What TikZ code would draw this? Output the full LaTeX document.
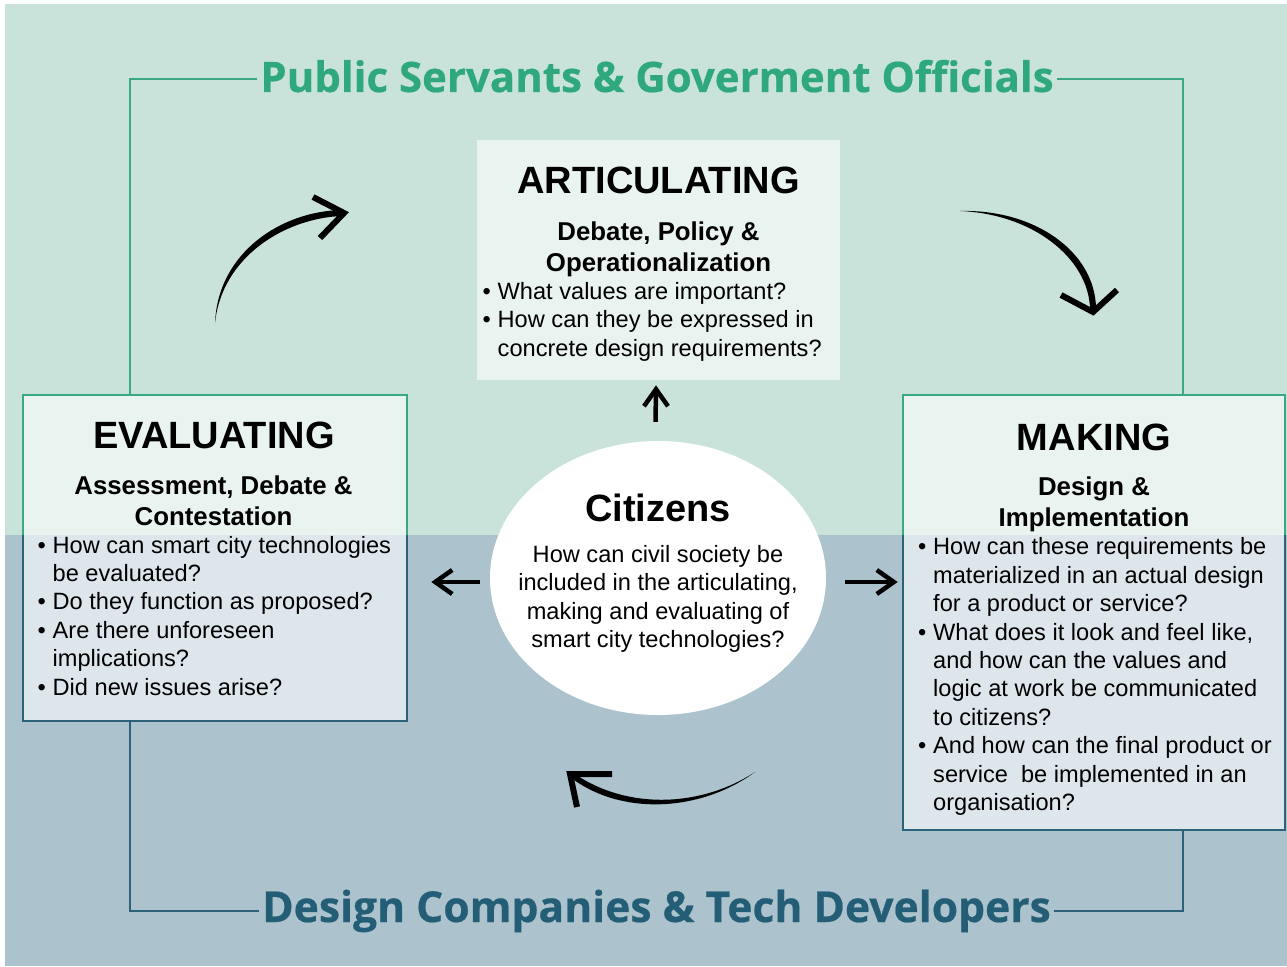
\documentclass[tikz,border=0pt]{standalone}
\usepackage{fontspec}
\setmainfont{Liberation Sans}
\newfontfamily\headfont{Open Sans}[BoldFeatures={FakeBold=0.5}]
\usetikzlibrary{calc,shapes.geometric}

\definecolor{bgtop}{HTML}{C9E3DA}
\definecolor{bgbot}{HTML}{ACC3CD}
\definecolor{gtxt}{HTML}{2EA87C}
\definecolor{gline}{HTML}{3AA983}
\definecolor{btxt}{HTML}{245E76}
\definecolor{bline}{HTML}{2C6279}

% bullet line and hanging continuation line
\newcommand{\bitem}[1]{\makebox[15pt][l]{\textbullet}#1}
\newcommand{\bcont}[1]{\hspace*{15pt}#1}

\begin{document}
\begin{tikzpicture}[x=1pt,y=-1pt,
  panel/.style={rectangle, fill=white, fill opacity=0.6, draw=none, inner sep=0pt},
  heading/.style={font=\fontsize{38}{40}\selectfont\bfseries, inner sep=0pt, anchor=base},
  % multi-line nodes below are placed by the baseline of their last line
  subhead/.style={font=\fontsize{25.8}{30.8}\selectfont\bfseries, align=center, inner sep=0pt, anchor=base},
  body/.style={font=\fontsize{23.6}{28.4}\selectfont, align=left, inner sep=0pt, anchor=base west},
  cbody/.style={font=\fontsize{23.6}{28.5}\selectfont, align=center, inner sep=0pt, anchor=base},
  bigtitle/.style={font=\headfont\bfseries\fontsize{42}{46}\selectfont, inner xsep=3pt, inner ysep=0pt, anchor=base},
  gbracket/.style={draw=gline, line width=2pt},
  bbracket/.style={draw=bline, line width=2pt},
  shaft/.style={draw=black, line width=4.5pt},
  vhead/.style={draw=black, line width=4.5pt, miter limit=10},
  barb/.style={draw=black, line width=6pt, miter limit=10},
]
\useasboundingbox (0,0) rectangle (1287,966);
\fill[white] (0,0) rectangle (1287,966);
\fill[bgtop] (5,4) rectangle (1287,535);
\fill[bgbot] (5,535) rectangle (1287,966);

% panels
\node[panel, minimum width=363, minimum height=240] (art) at (658.5,260) {};
\node[panel, minimum width=384, minimum height=326] (eval) at (215,558) {};
\node[panel, minimum width=382, minimum height=435] (make) at (1094,612.5) {};

% group titles
\node[bigtitle, text=gtxt] (ttl) at (657,92) {Public Servants \& Goverment Officials};
\node[bigtitle, text=btxt, font=\headfont\bfseries\fontsize{42.6}{46}\selectfont] (btl) at (656.5,922) {Design Companies \& Tech Developers};

% brackets
\coordinate (tl) at (130,79);
\coordinate (tr) at (1183,79);
\coordinate (bl) at (130,911);
\coordinate (br) at (1183,911);
\draw[gbracket] (ttl.west |- tl) -- (tl) -- (tl |- eval.north);
\draw[gbracket] (ttl.east |- tr) -- (tr) -- (tr |- make.north);
\draw[bbracket] (btl.west |- bl) -- (bl) -- (bl |- eval.south);
\draw[bbracket] (btl.east |- br) -- (br) -- (br |- make.south);

% panel borders, green above the split and blue below it
\begin{scope}
  \clip (0,0) rectangle (1287,535);
  \draw[gline, line width=2pt] (eval.north west) rectangle (eval.south east);
  \draw[gline, line width=2pt] (make.north west) rectangle (make.south east);
\end{scope}
\begin{scope}
  \clip (0,535) rectangle (1287,966);
  \draw[bline, line width=2pt] (eval.north west) rectangle (eval.south east);
  \draw[bline, line width=2pt] (make.north west) rectangle (make.south east);
\end{scope}

% citizens
\node[ellipse, fill=white, minimum width=336, minimum height=274, inner sep=0pt] (cit) at (658,578) {};
\node[heading] (citT) at (658,521.5) {Citizens};
\node[cbody] (citQ) at (658,647.5) {How can civil society be\\included in the articulating,\\making and evaluating of\\smart city technologies?};

% articulating
\node[heading] (artT) at (658.5,193) {ARTICULATING};
\node[subhead] (artS) at (658.5,271) {Debate, Policy \&\\Operationalization};
\node[body] (artB) at (482.5,356) {\bitem{What values are important?}\\
  \bitem{How can they be expressed in}\\
  \bcont{concrete design requirements?}};

% evaluating
\node[heading] (evT) at (214,448) {EVALUATING};
\node[subhead] (evS) at (213.5,525.5) {Assessment, Debate \&\\Contestation};
\node[body] (evB) at (37.5,695) {\bitem{How can smart city technologies}\\
  \bcont{be evaluated?}\\
  \bitem{Do they function as proposed?}\\
  \bitem{Are there unforeseen}\\
  \bcont{implications?}\\
  \bitem{Did new issues arise?}};

% making
\node[heading] (mkT) at (1094,450) {MAKING};
\node[subhead] (mkS) at (1094,526.5) {Design \&\\Implementation};
\node[body] (mkB) at (918,810.5) {\bitem{How can these requirements be}\\
  \bcont{materialized in an actual design}\\
  \bcont{for a product or service?}\\
  \bitem{What does it look and feel like,}\\
  \bcont{and how can the values and}\\
  \bcont{logic at work be communicated}\\
  \bcont{to citizens?}\\
  \bitem{And how can the final product or}\\
  \bcont{service\ \ be implemented in an}\\
  \bcont{organisation?}};

% straight arrows from the citizens to the three stages
\coordinate (upTail) at ($(cit.north)+(-2.5,-19)$);
\coordinate (upTip) at ($(art.south)+(-2.5,9)$);
\coordinate (lfTail) at ($(cit.west)+(-10,4)$);
\coordinate (lfTip) at ($(eval.east |- lfTail)+(28,0)$);
\coordinate (rtTail) at ($(cit.east)+(19,4)$);
\coordinate (rtTip) at ($(make.west |- rtTail)+(-9,0)$);
\draw[shaft] (upTail) -- (upTip);
\draw[vhead] ($(upTip)+(-12,17)$) -- (upTip) -- ($(upTip)+(12,17)$);
\draw[shaft] (lfTail) -- (lfTip);
\draw[vhead] ($(lfTip)+(17,-12)$) -- (lfTip) -- ($(lfTip)+(17,12)$);
\draw[shaft] (rtTail) -- (rtTip);
\draw[vhead] ($(rtTip)+(-17,-12)$) -- (rtTip) -- ($(rtTip)+(-17,12)$);

% curved cycle arrows (tapered shafts)
\fill[black] (215,323) .. controls (218,252) and (282,211) .. (342,210)
  -- (342,216) .. controls (286,218) and (222,256) .. (215,323) -- cycle;
\draw[barb] (313,197) -- (344,213) -- (320,238);

\fill[black] (960,211) .. controls (1035,209) and (1095,252) .. (1096,308)
  -- (1090,308) .. controls (1088,258) and (1033,214) .. (960,211) -- cycle;
\draw[barb] (1061,295) -- (1093,312) -- (1117,290);

\fill[black] (755,772) .. controls (700,808) and (625,810) .. (572,772)
  -- (574,780) .. controls (625,816) and (702,811) .. (755,772) -- cycle;
\draw[barb] (612,774) -- (570,774) -- (577,807);
\end{tikzpicture}
\end{document}
